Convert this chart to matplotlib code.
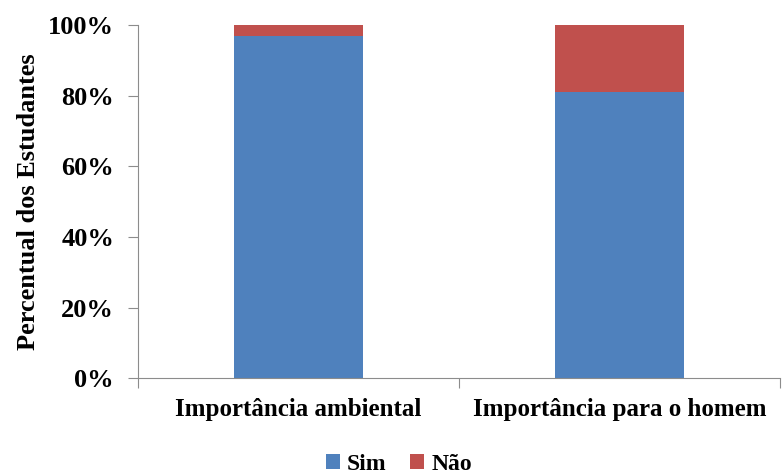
import matplotlib.pyplot as plt
from matplotlib.ticker import PercentFormatter

categories = ['Importância ambiental', 'Importância para o homem']
sim = [97, 81]
nao = [3, 19]

plt.rcParams['font.family'] = ['Liberation Serif', 'DejaVu Serif']
plt.rcParams['font.weight'] = 'bold'

fig = plt.figure(figsize=(7.82, 4.75), dpi=100)
ax = fig.add_axes([0.176, 0.204, 0.822, 0.743])

x = [0.5, 1.5]
ax.bar(x, sim, width=0.4, color='#4f81bd', label='Sim')
ax.bar(x, nao, width=0.4, bottom=sim, color='#c0504d', label='Não')

ax.set_xlim(0, 2)
ax.set_ylim(0, 100)
ax.set_yticks(range(0, 101, 20))
ax.yaxis.set_major_formatter(PercentFormatter(decimals=0))
ax.set_xticks([0, 1, 2])
ax.set_xticklabels([])
ax.set_xticks(x, minor=True)
ax.set_xticklabels(categories, minor=True, fontsize=18)
ax.tick_params(axis='x', which='minor', length=0, pad=14)
ax.tick_params(axis='x', which='major', length=7, direction='out', color='#8c8c8c')
ax.tick_params(axis='y', length=7, direction='out', color='#8c8c8c', labelsize=19, pad=10)

for side in ['top', 'right']:
    ax.spines[side].set_visible(False)
for side in ['left', 'bottom']:
    ax.spines[side].set_color('#8c8c8c')

ax.set_ylabel('Percentual dos Estudantes', fontsize=19, fontweight='bold', labelpad=6)

fig.legend(loc='center', bbox_to_anchor=(0.51, 0.022), ncol=2, frameon=False,
           fontsize=17, handlelength=0.6, handleheight=0.6, handletextpad=0.3,
           columnspacing=1.0)

fig.savefig('out.png', dpi=100)
